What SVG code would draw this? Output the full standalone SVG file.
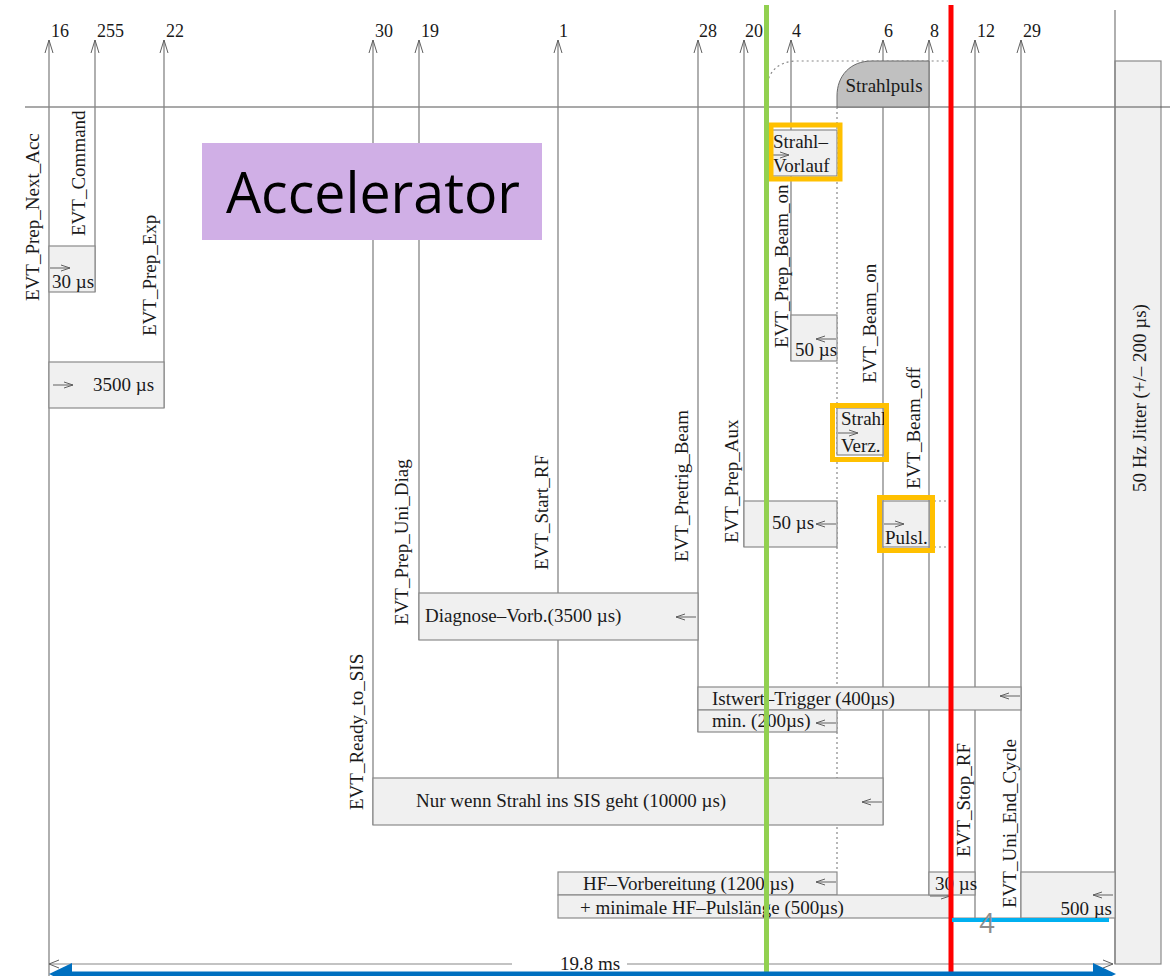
<svg xmlns="http://www.w3.org/2000/svg" xmlns:xlink="http://www.w3.org/1999/xlink" width="1170" height="976" viewBox="0 0 1170 976">
<style>
.ev{stroke:#858585;stroke-width:1.3;fill:none}
.box{fill:#f0f0f0;stroke:#8a8a8a;stroke-width:1.2}
.t{font-family:"Liberation Serif","Times New Roman",serif;font-size:19px;fill:#1a1a1a}
.num{font-family:"Liberation Serif","Times New Roman",serif;font-size:18px;fill:#1a1a1a}
.sa{stroke:#606060;stroke-width:1;fill:none}
.hl{fill:none;stroke:#FFC000;stroke-width:5}
.dot{stroke:#888;stroke-width:1.2;fill:none;stroke-dasharray:2 3}
</style>
<defs>
<path id="up" d="M-4,13 L0,0 L4,13" class="sa"/>
<path id="ra" d="M0,0 H20 M11,-3 L20,0 L11,3" class="sa"/>
<path id="la" d="M0,0 H20 M9,-3 L0,0 L9,3" class="sa"/>
</defs>
<rect width="1170" height="976" fill="#ffffff"/>

<g id="jitter">
<rect class="box" x="1115" y="61" width="46" height="903"/>
<text class="t" transform="translate(1146,398) rotate(-90)" text-anchor="middle">50 Hz Jitter (+/– 200 µs)</text>
</g>

<g id="connectors">
<line x1="25" y1="107" x2="1170" y2="107" stroke="#555" stroke-width="1.2"/>
<line class="ev" x1="1115" y1="10" x2="1115" y2="964" stroke="#555"/>
<line class="ev" x1="49" y1="40" x2="49" y2="976"/>
<line class="ev" x1="95" y1="40" x2="95" y2="292"/>
<line class="ev" x1="164" y1="40" x2="164" y2="408"/>
<line class="ev" x1="373" y1="40" x2="373" y2="825"/>
<line class="ev" x1="419" y1="40" x2="419" y2="640"/>
<line class="ev" x1="558" y1="40" x2="558" y2="778"/>
<line class="ev" x1="698" y1="40" x2="698" y2="732"/>
<line class="ev" x1="744" y1="40" x2="744" y2="547"/>
<line class="ev" x1="791" y1="40" x2="791" y2="361"/>
<line class="ev" x1="883" y1="40" x2="883" y2="825"/>
<line class="ev" x1="929" y1="40" x2="929" y2="895"/>
<line class="ev" x1="975" y1="40" x2="975" y2="918"/>
<line class="ev" x1="1021" y1="40" x2="1021" y2="918"/>
<use href="#up" x="49" y="40"/>
<use href="#up" x="95" y="40"/>
<use href="#up" x="164" y="40"/>
<use href="#up" x="373" y="40"/>
<use href="#up" x="419" y="40"/>
<use href="#up" x="558" y="40"/>
<use href="#up" x="698" y="40"/>
<use href="#up" x="744" y="40"/>
<use href="#up" x="791" y="40"/>
<use href="#up" x="883" y="40"/>
<use href="#up" x="929" y="40"/>
<use href="#up" x="975" y="40"/>
<use href="#up" x="1021" y="40"/>
<path class="dot" d="M766,88 Q770,62 796,61 L948,61"/>
<line class="dot" x1="837" y1="107" x2="837" y2="872"/>
<line class="dot" x1="929" y1="501" x2="952" y2="501"/>
<line class="dot" x1="929" y1="547" x2="952" y2="547"/>
<line x1="49" y1="964" x2="512" y2="964" stroke="#888" stroke-width="1.2"/>
<line x1="627" y1="964" x2="1113" y2="964" stroke="#888" stroke-width="1.2"/>
<path class="sa" d="M59,960 L49,964 L59,968"/>
<path class="sa" d="M1103,960 L1113,964 L1103,968"/>
</g>

<g id="numbers">
<text class="num" x="51" y="37">16</text>
<text class="num" x="97" y="37">255</text>
<text class="num" x="166" y="37">22</text>
<text class="num" x="375" y="37">30</text>
<text class="num" x="421" y="37">19</text>
<text class="num" x="559" y="37">1</text>
<text class="num" x="699" y="37">28</text>
<text class="num" x="745" y="37">20</text>
<text class="num" x="792" y="37">4</text>
<text class="num" x="884" y="37">6</text>
<text class="num" x="930" y="37">8</text>
<text class="num" x="977" y="37">12</text>
<text class="num" x="1023" y="37">29</text>
</g>

<g id="event-labels">
<text class="t" transform="translate(39,301) rotate(-90)">EVT_Prep_Next_Acc</text>
<text class="t" transform="translate(85,236) rotate(-90)">EVT_Command</text>
<text class="t" transform="translate(156,336) rotate(-90)">EVT_Prep_Exp</text>
<text class="t" transform="translate(363,810) rotate(-90)">EVT_Ready_to_SIS</text>
<text class="t" transform="translate(408,625) rotate(-90)">EVT_Prep_Uni_Diag</text>
<text class="t" transform="translate(548,570) rotate(-90)">EVT_Start_RF</text>
<text class="t" transform="translate(688,562) rotate(-90)">EVT_Pretrig_Beam</text>
<text class="t" transform="translate(738,543) rotate(-90)">EVT_Prep_Aux</text>
<text class="t" transform="translate(788,348) rotate(-90)">EVT_Prep_Beam_on</text>
<text class="t" transform="translate(876,383) rotate(-90)">EVT_Beam_on</text>
<text class="t" transform="translate(920,489) rotate(-90)">EVT_Beam_off</text>
<text class="t" transform="translate(970,857) rotate(-90)">EVT_Stop_RF</text>
<text class="t" transform="translate(1016,908) rotate(-90)">EVT_Uni_End_Cycle</text>
</g>

<g id="strahlpuls">
<path d="M837,107 V96 C837,76 850,61 872,61 H929 V107 Z" fill="#c0c0c0" stroke="#6a6a6a" stroke-width="1"/>
<text class="t" x="884" y="92" text-anchor="middle">Strahlpuls</text>
</g>

<g id="box-30us-a">
<rect class="box" x="49" y="246" width="46" height="46"/>
<use href="#ra" x="50" y="268"/>
<text class="t" x="52" y="288">30 µs</text>
</g>
<g id="box-3500us">
<rect class="box" x="49" y="362" width="115" height="46"/>
<use href="#ra" x="53" y="385"/>
<text class="t" x="93" y="391">3500 µs</text>
</g>
<g id="box-strahl-vorlauf">
<rect class="box" x="768" y="130" width="69" height="46"/>
<use href="#ra" x="769" y="155"/>
<text class="t" x="773" y="148">Strahl–</text>
<text class="t" x="773" y="172">Vorlauf</text>
</g>
<g id="box-50us-a">
<rect class="box" x="791" y="315" width="46" height="46"/>
<use href="#la" x="816" y="339"/>
<text class="t" x="795" y="356">50 µs</text>
</g>
<g id="box-strahl-verz">
<rect class="box" x="837" y="408" width="46" height="47"/>
<use href="#ra" x="838" y="433"/>
<text class="t" x="841" y="425">Strahl</text>
<text class="t" x="841" y="452">Verz.</text>
</g>
<g id="box-50us-b">
<rect class="box" x="744" y="501" width="93" height="46"/>
<use href="#la" x="816" y="524"/>
<text class="t" x="772" y="529">50 µs</text>
</g>
<g id="box-pulsl">
<rect class="box" x="883" y="501" width="46" height="46"/>
<use href="#ra" x="884" y="524"/>
<text class="t" x="885" y="544">Pulsl.</text>
</g>
<g id="box-diagnose">
<rect class="box" x="419" y="593" width="279" height="47"/>
<use href="#la" x="676" y="617"/>
<text class="t" x="425" y="622">Diagnose–Vorb.(3500 µs)</text>
</g>
<g id="box-istwert">
<rect class="box" x="698" y="687" width="323" height="23"/>
<use href="#la" x="1000" y="696"/>
<text class="t" x="712" y="705">Istwert–Trigger (400µs)</text>
</g>
<g id="box-min">
<rect class="box" x="698" y="710" width="139" height="22"/>
<use href="#la" x="816" y="723"/>
<text class="t" x="712" y="727">min. (200µs)</text>
</g>
<g id="box-nur-wenn">
<rect class="box" x="373" y="778" width="510" height="47"/>
<use href="#la" x="862" y="802"/>
<text class="t" x="416" y="807">Nur wenn Strahl ins SIS geht (10000 µs)</text>
</g>
<g id="box-hf-vorb">
<rect class="box" x="558" y="872" width="279" height="23"/>
<use href="#la" x="816" y="882"/>
<text class="t" x="583" y="890">HF–Vorbereitung (1200 µs)</text>
</g>
<g id="box-hf-puls">
<rect class="box" x="558" y="895" width="392" height="23"/>
<use href="#ra" x="930" y="896"/>
<text class="t" x="580" y="914">+ minimale HF–Pulslänge (500µs)</text>
</g>
<g id="box-30us-b">
<rect class="box" x="929" y="872" width="46" height="23"/>
<text class="t" x="935" y="890">30 µs</text>
</g>
<g id="box-500us">
<rect class="box" x="1021" y="872" width="94" height="46"/>
<use href="#la" x="1093" y="895"/>
<text class="t" x="1112" y="915" text-anchor="end">500 µs</text>
</g>
<line x1="950" y1="918" x2="1021" y2="918" stroke="#8a8a8a" stroke-width="1.2"/>

<g id="dimension-label">
<text class="t" x="560" y="970">19.8 ms</text>
</g>

<g id="accelerator">
<rect x="202" y="143" width="340" height="97" fill="#D0AFE6"/>
<text x="226" y="213" textLength="294" lengthAdjust="spacingAndGlyphs" font-family="'Open Sans','Liberation Sans',Arial,sans-serif" font-size="57" fill="#000">Accelerator</text>
</g>

<g id="highlights">
<rect class="hl" x="771" y="125" width="69" height="54"/>
<rect class="hl" x="832.5" y="405.5" width="54" height="54"/>
<rect class="hl" x="879.5" y="497.5" width="53" height="53"/>
</g>

<g id="markers">
<line x1="766.5" y1="5" x2="766.5" y2="976" stroke="#92D050" stroke-width="5"/>
<line x1="951" y1="5" x2="951" y2="976" stroke="#FF0000" stroke-width="5"/>
<line x1="952" y1="920" x2="1109" y2="920" stroke="#00B0F0" stroke-width="4"/>
<text x="987" y="933" text-anchor="middle" font-family="'Open Sans','Liberation Sans',Arial,sans-serif" font-size="27" fill="#8c8c8c">4</text>
<line x1="66" y1="974" x2="1098" y2="974" stroke="#0070C0" stroke-width="5"/>
<path d="M49,974 L72,963 L72,985 Z" fill="#0070C0"/>
<path d="M1116,974 L1093,963 L1093,985 Z" fill="#0070C0"/>
</g>
</svg>
